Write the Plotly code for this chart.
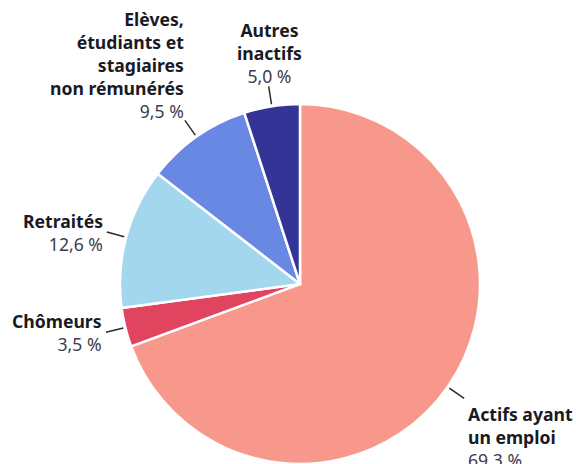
import math
import plotly.graph_objects as go

# Répartition de la population par statut d'activité (%)
categories = ["Actifs ayant un emploi", "Chômeurs", "Retraités",
              "Elèves, étudiants et stagiaires non rémunérés", "Autres inactifs"]
label_names = ["Actifs ayant<br>un emploi", "Chômeurs", "Retraités",
               "Elèves,<br>étudiants et<br>stagiaires<br>non rémunérés",
               "Autres<br>inactifs"]
values = [69.3, 3.5, 12.6, 9.5, 5.0]
value_labels = ["69,3 %", "3,5 %", "12,6 %", "9,5 %", "5,0 %"]
colors = ["#F8988C", "#E0445F", "#A3D7EE", "#6888E4", "#343496"]

W, H = 576, 464
CX, CY, R = 300, 284, 180  # pie centre and radius in pixels

fig = go.Figure(go.Pie(
    labels=categories,
    values=values,
    sort=False,
    direction="clockwise",
    rotation=0,
    textinfo="none",
    hoverinfo="label+percent",
    marker=dict(colors=colors, line=dict(color="white", width=2.5)),
    domain=dict(x=[(CX - R) / W, (CX + R) / W], y=[0, 2 * R / H]),
    showlegend=False,
))

# label placement: (anchor x, anchor y, x shift, y shift, align)
placement = [
    ("left", "top", 2, -2, "left"),
    ("right", "middle", -2, 0, "right"),
    ("right", "middle", -2, 0, "right"),
    ("right", "bottom", 1, -5, "right"),
    ("center", "bottom", 1, -4, "center"),
]

total = sum(values)
shapes, annotations = [], []
cum = 0.0
for name, v, vl, (xa, ya, xs, ys, al) in zip(label_names, values, value_labels, placement):
    mid = (cum + v / 2) / total * 2 * math.pi
    cum += v
    dx, dy = math.sin(mid), -math.cos(mid)
    x0, y0 = CX + dx * (R + 2), CY + dy * (R + 2)
    x1, y1 = CX + dx * (R + 20), CY + dy * (R + 20)
    shapes.append(dict(type="line", xref="paper", yref="paper",
                       x0=x0 / W, y0=1 - y0 / H, x1=x1 / W, y1=1 - y1 / H,
                       line=dict(color="#2b2b2b", width=1.5)))
    annotations.append(dict(
        xref="paper", yref="paper", x=x1 / W, y=1 - y1 / H,
        xanchor=xa, yanchor=ya, xshift=xs, yshift=ys, align=al,
        showarrow=False,
        text=f"<b>{name}</b><br><span style='color:#3c3c4c'>{vl}</span>",
        font=dict(family="Noto Sans", size=17.6, color="#1a1a24"),
    ))

fig.update_layout(
    width=W, height=H, autosize=False,
    margin=dict(l=0, r=0, t=0, b=0),
    paper_bgcolor="white", plot_bgcolor="white",
    shapes=shapes, annotations=annotations,
)

fig.write_html("out.html")
